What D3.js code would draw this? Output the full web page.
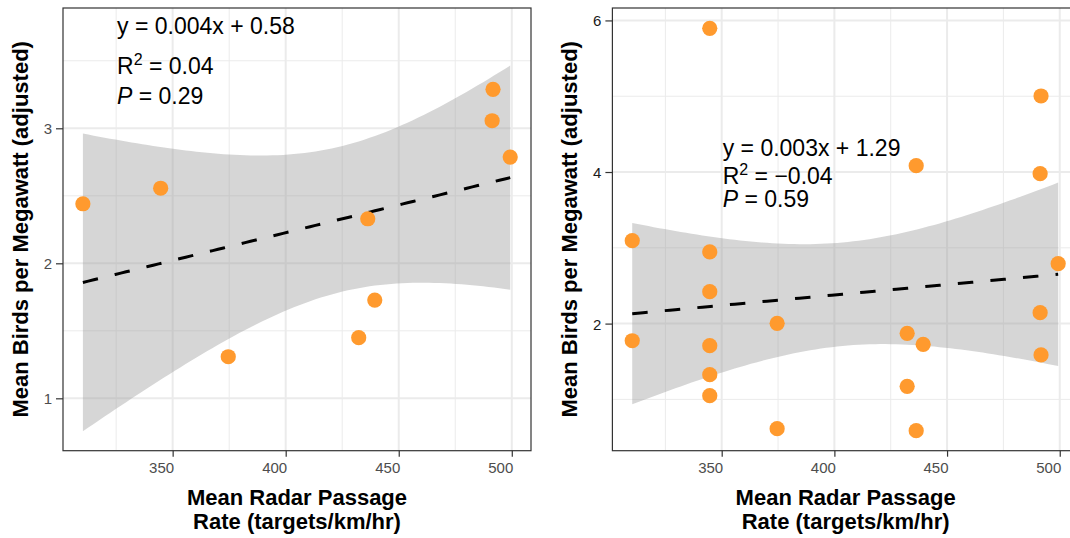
<!DOCTYPE html>
<html>
<head>
<meta charset="utf-8">
<script src="https://cdn.jsdelivr.net/npm/d3@7"></script>
<style>
  html, body { margin: 0; padding: 0; background: #fff; }
  svg { display: block; font-family: "Liberation Sans", Arial, sans-serif; }
</style>
</head>
<body>
<svg id="chart" width="1070" height="538"></svg>
<script>
// ---------- data ----------
const leftX  = [310.3, 344.7, 374.6, 432.3, 436.3, 439.4, 491.7, 491.3, 499.3];
const leftY  = [2.441, 2.556, 1.308, 1.449, 2.330, 1.728, 3.289, 3.056, 2.787];

const rightX = [310.3, 310.3, 344.7, 344.7, 344.7, 344.7, 344.7, 344.7, 374.6, 374.6,
                432.3, 432.3, 436.3, 436.3, 439.4, 491.7, 491.7, 491.3, 491.3, 499.3];
const rightY = [3.094, 1.774, 5.896, 2.945, 2.421, 1.709, 1.326, 1.049, 2.004, 0.613,
                1.872, 1.173, 4.083, 0.587, 1.727, 5.003, 1.586, 3.978, 2.144, 2.790];

const xTicks = [350, 400, 450, 500];
const xMinor = [325, 375, 425, 475];
const leftYTicks = [1, 2, 3];
const leftYMinor = [1.5, 2.5, 3.5];
const rightYTicks = [2, 4, 6];
const rightYMinor = [1, 3, 5];

const leftLabels  = { eq: "y = 0.004x + 0.58", r2: "= 0.04",  p: "= 0.29" };
const rightLabels = { eq: "y = 0.003x + 1.29", r2: "= \u22120.04", p: "= 0.59" };

const yTitle = "Mean Birds per Megawatt (adjusted)";
const xTitle = ["Mean Radar Passage", "Rate (targets/km/hr)"];

// t quantiles (0.975) for residual df
const tQ = { 7: 2.364624, 18: 2.100922 };

// ---------- helpers ----------
function fit(xs, ys) {
  const n = xs.length;
  const mx = d3.mean(xs), my = d3.mean(ys);
  let sxx = 0, sxy = 0;
  xs.forEach((x, i) => { sxx += (x - mx) ** 2; sxy += (x - mx) * (ys[i] - my); });
  const b = sxy / sxx, a = my - b * mx;
  let sse = 0;
  xs.forEach((x, i) => { sse += (ys[i] - a - b * x) ** 2; });
  const s = Math.sqrt(sse / (n - 2));
  const t = tQ[n - 2];
  const x0 = d3.min(xs), x1 = d3.max(xs);
  const pts = d3.range(80).map(k => {
    const x = x0 + (x1 - x0) * k / 79;
    const yh = a + b * x;
    const se = s * Math.sqrt(1 / n + (x - mx) ** 2 / sxx);
    return { x, y: yh, lo: yh - t * se, hi: yh + t * se };
  });
  return pts;
}

const svg = d3.select("#chart");
const gridCol = "#EBEBEB";
const orange = "#FF9A2E";

function panel(cfg) {
  const { xs, ys, xRange, yDomain, yTicks, yMinor, labels, yTickColor, labPos, titleX } = cfg;
  const x = d3.scaleLinear().domain([301.5, 508.5]).range(xRange);
  const y = d3.scaleLinear().domain(yDomain).range([450.7, 8]);
  const g = svg.append("g");
  const [L, R] = xRange, T = 8, B = 450.7;

  const clipId = "clip" + Math.round(L);
  svg.append("clipPath").attr("id", clipId).append("rect")
    .attr("x", L).attr("y", T).attr("width", R - L).attr("height", B - T);
  const pg = g.append("g").attr("clip-path", `url(#${clipId})`);

  pg.append("rect").attr("x", L).attr("y", T).attr("width", R - L).attr("height", B - T).attr("fill", "#fff");

  // minor grid
  pg.selectAll(".vmin").data(xMinor).join("line")
    .attr("x1", d => x(d)).attr("x2", d => x(d)).attr("y1", T).attr("y2", B)
    .attr("stroke", gridCol).attr("stroke-width", 1);
  pg.selectAll(".hmin").data(yMinor).join("line")
    .attr("y1", d => y(d)).attr("y2", d => y(d)).attr("x1", L).attr("x2", R)
    .attr("stroke", gridCol).attr("stroke-width", 1);
  // major grid
  pg.selectAll(".vmaj").data(xTicks).join("line")
    .attr("x1", d => x(d)).attr("x2", d => x(d)).attr("y1", T).attr("y2", B)
    .attr("stroke", gridCol).attr("stroke-width", 2);
  pg.selectAll(".hmaj").data(yTicks).join("line")
    .attr("y1", d => y(d)).attr("y2", d => y(d)).attr("x1", L).attr("x2", R)
    .attr("stroke", gridCol).attr("stroke-width", 2);

  // ribbon + line
  const pts = fit(xs, ys);
  pg.append("path").datum(pts)
    .attr("d", d3.area().x(d => x(d.x)).y0(d => y(d.lo)).y1(d => y(d.hi)))
    .attr("fill", "#999999").attr("fill-opacity", 0.4);
  pg.append("path").datum(pts)
    .attr("d", d3.line().x(d => x(d.x)).y(d => y(d.y)))
    .attr("fill", "none").attr("stroke", "#000").attr("stroke-width", 3)
    .attr("stroke-dasharray", "15.5,17.2");

  // points
  pg.selectAll("circle").data(xs.map((v, i) => [v, ys[i]])).join("circle")
    .attr("cx", d => x(d[0])).attr("cy", d => y(d[1])).attr("r", 7.6)
    .attr("fill", orange);

  // annotation
  const ann = g.append("g").attr("font-size", 23).attr("fill", "#000");
  ann.append("text").attr("x", labPos.x).attr("y", labPos.y[0]).text(labels.eq);
  const r2 = ann.append("text").attr("x", labPos.x).attr("y", labPos.y[1]);
  r2.append("tspan").text("R");
  r2.append("tspan").attr("font-size", 16).attr("dy", -9).text("2");
  r2.append("tspan").attr("dy", 9).text(" " + labels.r2);
  const p = ann.append("text").attr("x", labPos.x).attr("y", labPos.y[2]);
  p.append("tspan").attr("font-style", "italic").text("P");
  p.append("tspan").text(" " + labels.p);

  // border
  g.append("rect").attr("x", L).attr("y", T).attr("width", R - L).attr("height", B - T)
    .attr("fill", "none").attr("stroke", "#333").attr("stroke-width", 1.2);

  // axes
  const xAxis = g.append("g").attr("transform", `translate(0,${B})`)
    .call(d3.axisBottom(x).tickValues(xTicks).tickSize(6).tickSizeOuter(0).tickFormat(d3.format("d")));
  xAxis.select(".domain").remove();
  xAxis.selectAll(".tick line").attr("stroke", "#333").attr("stroke-width", 1.2);
  xAxis.selectAll(".tick text").attr("fill", "#4D4D4D").attr("font-size", 15)
    .attr("font-family", "Liberation Sans, Arial, sans-serif")
    .attr("text-anchor", "end").attr("dx", 1).attr("y", 0).attr("dy", 22);

  const yAxis = g.append("g").attr("transform", `translate(${L},0)`)
    .call(d3.axisLeft(y).tickValues(yTicks).tickSize(7).tickSizeOuter(0).tickFormat(d3.format("d")));
  yAxis.select(".domain").remove();
  yAxis.selectAll(".tick line").attr("stroke", "#333").attr("stroke-width", 1.2);
  yAxis.selectAll(".tick text").attr("fill", yTickColor).attr("font-size", 15)
    .attr("font-family", "Liberation Sans, Arial, sans-serif")
    .attr("x", -11).attr("dy", "0.36em");

  // titles
  const cx = (L + Math.min(R, 1078.9)) / 2;
  g.append("text").attr("font-size", 22).attr("font-weight", "bold")
    .attr("text-anchor", "middle")
    .attr("transform", `translate(${titleX},${(T + B) / 2}) rotate(-90)`)
    .text(yTitle);
  xTitle.forEach((t, i) => {
    g.append("text").attr("font-size", 22).attr("font-weight", "bold")
      .attr("text-anchor", "middle").attr("x", cx).attr("y", 505 + i * 24).text(t);
  });
}

panel({
  xs: leftX, ys: leftY, xRange: [63, 531], yDomain: [0.612, 3.891],
  yTicks: leftYTicks, yMinor: leftYMinor, labels: leftLabels, yTickColor: "#4D4D4D",
  labPos: { x: 117, y: [34.3, 74, 104] }, titleX: 28.3
});
panel({
  xs: rightX, ys: rightY, xRange: [612.4, 1078.9], yDomain: [0.323, 6.164],
  yTicks: rightYTicks, yMinor: rightYMinor, labels: rightLabels, yTickColor: "#1A1A1A",
  labPos: { x: 722.7, y: [156, 184.3, 207.3] }, titleX: 577.3
});
</script>
</body>
</html>
